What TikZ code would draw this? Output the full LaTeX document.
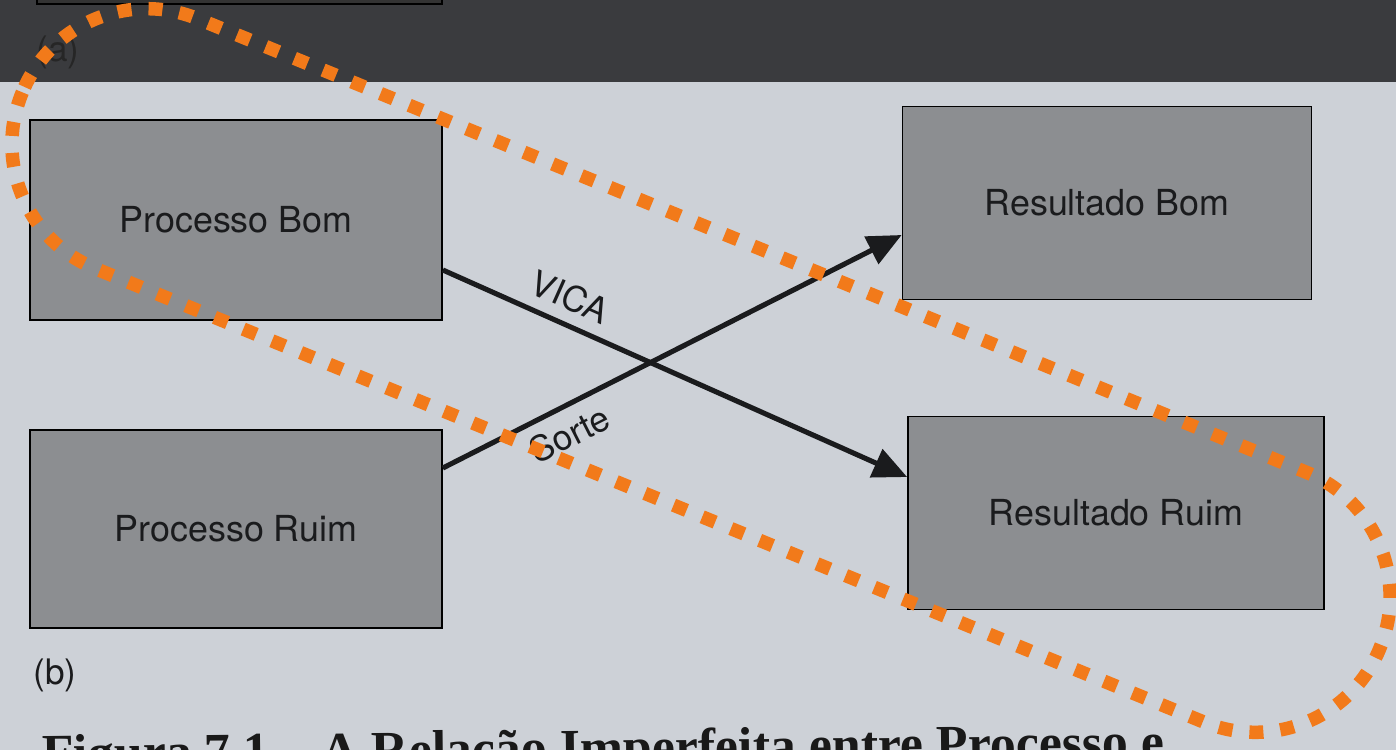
\documentclass[tikz,border=0pt]{standalone}
\usepackage{fontspec}
\setmainfont{TeX Gyre Heros}
\newfontfamily\legenda{Liberation Serif}
\usepackage{tikz}
\usetikzlibrary{arrows.meta}
\definecolor{pagina}{HTML}{CDD1D7}
\definecolor{faixa}{HTML}{3A3B3E}
\definecolor{caixacor}{HTML}{8C8E91}
\definecolor{laranja}{HTML}{F27A1A}
\definecolor{tinta}{HTML}{1A1B1D}

\begin{document}
\begin{tikzpicture}[x=0.02cm,y=-0.02cm,
    caixa/.style={draw=black,line width=1pt,fill=caixacor,text=tinta,minimum width=8.24cm,minimum height=3.9cm,inner sep=0pt,font=\fontsize{20.4}{24}\selectfont},
    rotulo/.style={text=tinta,font=\fontsize{20}{24}\selectfont},
    seta/.style={line width=2.9pt,draw=tinta,-{Triangle[length=0.68cm,width=0.6cm]}},
    contorno/.style={draw=laranja,line width=0.27cm,dash pattern=on 0.28cm off 0.34cm,rounded corners=2.69cm}]
    \useasboundingbox (0,0) rectangle (1396,750);
    \clip (0,0) rectangle (1396,750);
    \fill[pagina] (0,0) rectangle (1396,750);
    \fill[faixa] (0,0) rectangle (1396,82);
    \draw[fill=black!80,line width=1pt] (37,-20) rectangle (442,4);
    \node[rotulo,text=black!85] (a) at (58,52) {(a)};
    \node[caixa,minimum height=4cm] (pb) at (236,220) {Processo Bom};
    \node[caixa,minimum height=3.96cm] (pr) at (236,529) {Processo Ruim};
    \node[caixa,minimum width=8.18cm,minimum height=3.86cm] (rb) at (1107,203) {Resultado Bom};
    \node[caixa,minimum width=8.32cm,minimum height=3.86cm] (rr) at (1116,513) {Resultado Ruim};
    \draw[seta] ([yshift=-1cm]pb.east) -- node[rotulo,sloped,above=3pt,pos=0.25] (vica) {VICA} ([yshift=0.72cm]rr.west);
    \draw[seta] ([yshift=1.22cm]pr.east) -- node[rotulo,sloped,below=3pt,pos=0.25] (sorte) {Sorte} ([yshift=-0.64cm]rb.west);
    \node[rotulo] (b) at (55,675) {(b)};
    \node[anchor=base west,rotate=0.6,text=black!90,font=\legenda\bfseries\fontsize{29.5}{36}\selectfont] (titulo) at (36,771) {Figura 7.1\quad A Relação Imperfeita entre Processo e};
    \begin{scope}[shift={(701,370.5)},rotate=-22.25]
        \draw[contorno] (-733.5,-135) rectangle (733.5,135);
    \end{scope}
\end{tikzpicture}
\end{document}
